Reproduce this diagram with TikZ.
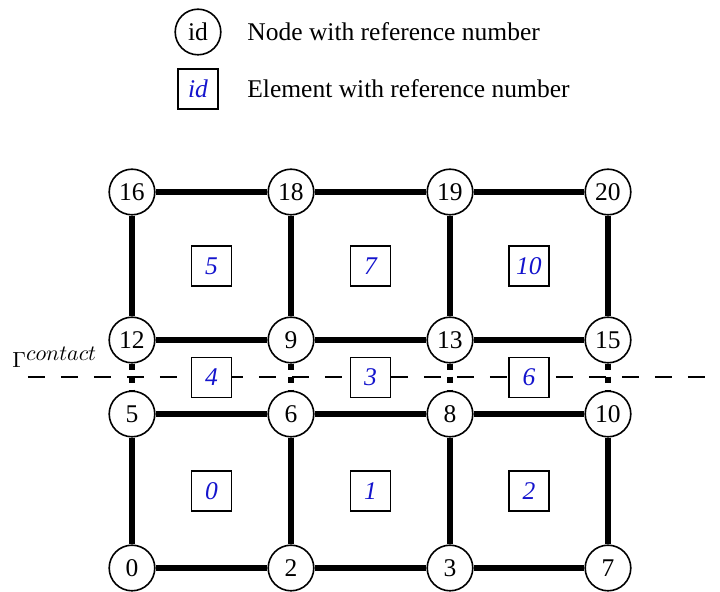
\documentclass[tikz,border=0pt]{standalone}
\usepackage{fontspec}
\setmainfont{Liberation Serif}
\definecolor{elemblue}{RGB}{20,20,205}
\begin{document}
\begin{tikzpicture}[x=0.5pt,y=-0.5pt,
  fe node/.style={circle,draw,line width=0.8pt,fill=white,minimum size=22.8pt,
    inner sep=0pt,font=\fontsize{12.75}{14}\selectfont},
  fe elem/.style={rectangle,draw,line width=0.6pt,fill=white,minimum size=20pt,
    inner sep=0pt,text=elemblue,font=\fontsize{12.75}{14}\selectfont\itshape},
  mesh edge/.style={line width=3pt},
  contact link/.style={line width=3pt,dash pattern=on 3.2pt off 3.3pt},
  contact line/.style={line width=1pt,dash pattern=on 8.5pt off 8pt},
  legend text/.style={anchor=west,inner sep=0pt,font=\fontsize{12.75}{14}\selectfont}]
\useasboundingbox (0,0) rectangle (720,592);

% contact boundary
\coordinate (gL) at (28,377.5);
\coordinate (gR) at (720,377.5);
\draw[contact line] (gL) -- (gR);
\node[anchor=base west,inner sep=0pt,font=\fontsize{10.6}{12}\selectfont] (glabel) at (12,368) {$\Gamma^{\textstyle contact}$};

% legend
\node[fe node] (lgnode) at (198,32) {id};
\node[fe elem] (lgelem) at (198,89) {id};
\node[legend text] (lgnodetxt) at (247,32) {Node with reference number};
\node[legend text] (lgelemtxt) at (247,89) {Element with reference number};

% mesh nodes
\foreach \id/\x/\y in {16/132/192, 18/291/192, 19/450/192, 20/608/192,
                       12/132/340, 9/291/340, 13/450/340, 15/608/340,
                       5/132/414, 6/291/414, 8/450/414, 10/608/414,
                       0/132/568, 2/291/568, 3/450/568, 7/608/568}
  \node[fe node] (n\id) at (\x,\y) {\id};

% elements
\foreach \id/\x/\y in {5/211.5/266, 7/370.5/266, 10/529/266,
                       4/211.5/377.5, 3/370.5/377.5, 6/529/377.5,
                       0/211.5/491, 1/370.5/491, 2/529/491}
  \node[fe elem] (e\id) at (\x,\y) {\id};

% upper body
\draw[mesh edge] (n16) -- (n18);
\draw[mesh edge] (n18) -- (n19);
\draw[mesh edge] (n19) -- (n20);
\draw[mesh edge] (n12) -- (n9);
\draw[mesh edge] (n9) -- (n13);
\draw[mesh edge] (n13) -- (n15);
\draw[mesh edge] (n16) -- (n12);
\draw[mesh edge] (n18) -- (n9);
\draw[mesh edge] (n19) -- (n13);
\draw[mesh edge] (n20) -- (n15);

% lower body
\draw[mesh edge] (n5) -- (n6);
\draw[mesh edge] (n6) -- (n8);
\draw[mesh edge] (n8) -- (n10);
\draw[mesh edge] (n0) -- (n2);
\draw[mesh edge] (n2) -- (n3);
\draw[mesh edge] (n3) -- (n7);
\draw[mesh edge] (n5) -- (n0);
\draw[mesh edge] (n6) -- (n2);
\draw[mesh edge] (n8) -- (n3);
\draw[mesh edge] (n10) -- (n7);

% contact links across the interface
\draw[contact link] (n12) -- (n5);
\draw[contact link] (n9) -- (n6);
\draw[contact link] (n13) -- (n8);
\draw[contact link] (n15) -- (n10);
\end{tikzpicture}
\end{document}
